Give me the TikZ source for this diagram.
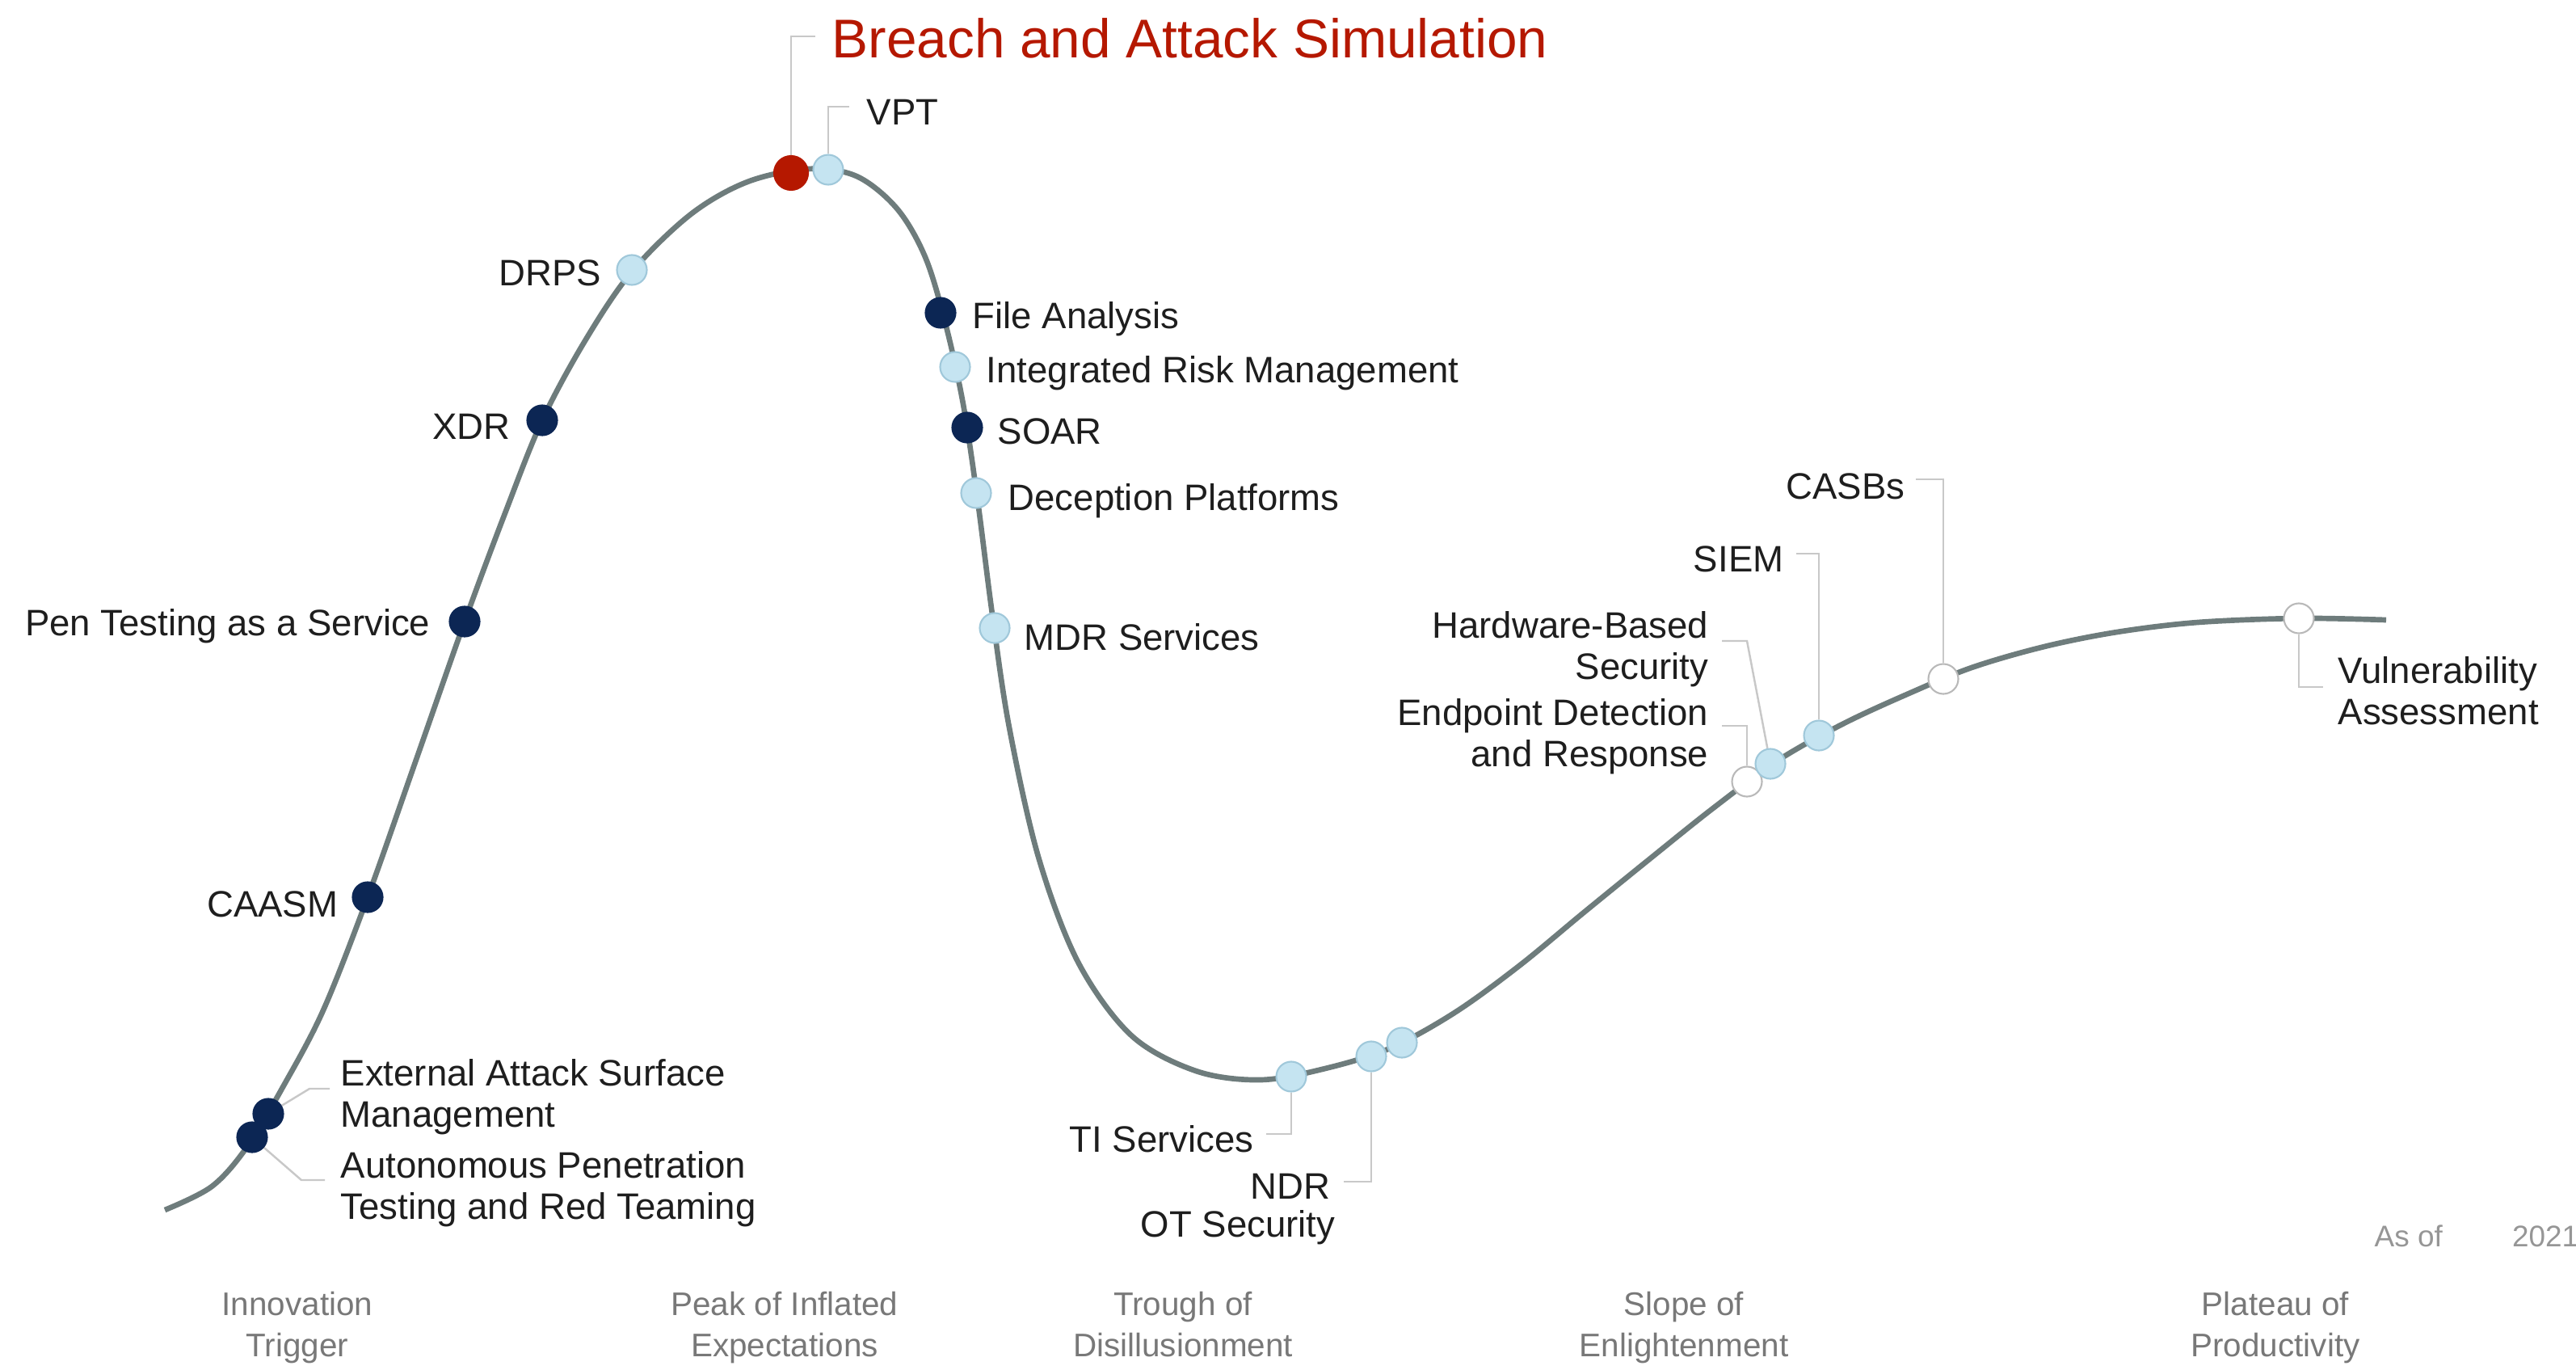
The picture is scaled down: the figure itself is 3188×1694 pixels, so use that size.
\documentclass[tikz,border=0pt]{standalone}
\usepackage{fontspec}
\setmainfont{Liberation Sans}
\definecolor{curvec}{RGB}{110,124,124}
\definecolor{navy}{RGB}{12,38,84}
\definecolor{lblue}{RGB}{197,228,241}
\definecolor{lblueb}{RGB}{160,200,218}
\definecolor{wborder}{RGB}{185,185,185}
\definecolor{basred}{RGB}{181,24,0}
\definecolor{leadc}{RGB}{200,200,200}
\definecolor{txt}{RGB}{30,30,30}
\definecolor{phasec}{RGB}{120,120,120}
\definecolor{asofc}{RGB}{150,150,150}
\pgfdeclarelayer{bg}
\pgfsetlayers{bg,main}
\begin{document}
\begin{tikzpicture}[x=0.01cm, y=-0.01cm,
  dot/.style={circle, minimum size=0.37cm, inner sep=0pt, line width=0.6pt},
  darkdot/.style={dot, fill=navy, draw=navy},
  lightdot/.style={dot, fill=lblue, draw=lblueb},
  whitedot/.style={dot, fill=white, draw=wborder},
  reddot/.style={dot, minimum size=0.42cm, fill=basred, draw=basred},
  lbl/.style={inner sep=0pt, text=txt, font=\fontsize{12.95}{14.4}\selectfont},
  titlelbl/.style={inner sep=0pt, text=basred, font=\fontsize{19.2}{22}\selectfont},
  phaselbl/.style={inner sep=0pt, text=phasec, align=center, anchor=north, font=\fontsize{11.5}{14.5}\selectfont},
  leader/.style={draw=leadc, line width=0.7pt},
  curveline/.style={draw=curvec, line width=1.9pt}
]
\useasboundingbox (0,0) rectangle (3188,1694);

% dots
\node[darkdot] (APT) at (312,1407) {};
\node[darkdot] (EASM) at (332,1378) {};
\node[darkdot] (CAASM) at (455,1110) {};
\node[darkdot] (PT) at (575,769) {};
\node[darkdot] (XDR) at (671,520) {};
\node[lightdot] (DRPS) at (782,334) {};
\node[lightdot] (VPT) at (1025,210) {};
\node[reddot] (BAS) at (979,214) {};
\node[darkdot] (FA) at (1164,387) {};
\node[lightdot] (IRM) at (1182,454) {};
\node[darkdot] (SOAR) at (1197,529) {};
\node[lightdot] (DP) at (1208,610) {};
\node[lightdot] (MDR) at (1231,777) {};
\node[lightdot] (TI) at (1598,1332) {};
\node[lightdot] (NDR) at (1697,1307) {};
\node[lightdot] (OT) at (1735,1290) {};
\node[whitedot] (EDR) at (2162,967) {};
\node[lightdot] (HBS) at (2191,945) {};
\node[lightdot] (SIEM) at (2251,910) {};
\node[whitedot] (CASB) at (2405,840) {};
\node[whitedot] (VA) at (2845,765) {};

% leader end points
\coordinate (lBAS) at (1009,45);
\coordinate (lVPT) at (1051,132);
\coordinate (kEASM) at (383,1347);
\coordinate (lEASM) at (408,1347);
\coordinate (kAPT) at (373,1460);
\coordinate (lAPT) at (402,1460);
\coordinate (lTI) at (1567,1403);
\coordinate (lNDR) at (1663,1462);
\coordinate (lEDR) at (2131,898);
\coordinate (kHBS) at (2162,793);
\coordinate (lHBS) at (2131,793);
\coordinate (lSIEM) at (2223,685);
\coordinate (lCASB) at (2371,593);
\coordinate (lVA) at (2875,850);

\begin{pgfonlayer}{bg}
\draw[curveline] plot[smooth, tension=0.55] coordinates {(204,1497) (262,1468) (305,1420) (350,1345) (400,1250) (455,1110) (515,940) (575,769) (625,635) (671,520) (725,420) (782,336) (855,265) (925,225) (1000,209) (1060,218) (1110,258) (1145,318) (1170,400) (1192,500) (1210,620) (1228,760) (1249,900) (1285,1060) (1334,1190) (1400,1281) (1480,1325) (1560,1336) (1640,1322) (1720,1297) (1800,1253) (1880,1195) (1960,1129) (2040,1064) (2120,1000) (2200,941) (2280,896) (2360,859) (2440,826) (2530,800) (2620,782) (2720,770) (2845,765) (2953,767)};
\draw[leader] (BAS) |- (lBAS);
\draw[leader] (VPT) |- (lVPT);
\draw[leader] (EASM) -- (kEASM) -- (lEASM);
\draw[leader] (APT) -- (kAPT) -- (lAPT);
\draw[leader] (TI) |- (lTI);
\draw[leader] (NDR) |- (lNDR);
\draw[leader] (EDR) |- (lEDR);
\draw[leader] (HBS) -- (kHBS) -- (lHBS);
\draw[leader] (SIEM) |- (lSIEM);
\draw[leader] (CASB) |- (lCASB);
\draw[leader] (VA) |- (lVA);
\end{pgfonlayer}

% labels
\node[titlelbl, anchor=base west] (tBAS) at (1029,72) {Breach and Attack Simulation};
\node[lbl, anchor=base west] (tVPT) at (1072,155) {VPT};
\node[lbl, anchor=base east] (tDRPS) at (745,353) {DRPS};
\node[lbl, anchor=base east] (tXDR) at (632,543) {XDR};
\node[lbl, anchor=base east] (tPT) at (533,786) {Pen Testing as a Service};
\node[lbl, anchor=base east] (tCAASM) at (419,1134) {CAASM};
\node[lbl, anchor=north west, align=left] (tEASM) at (421,1310) {External Attack Surface\\Management};
\node[lbl, anchor=north west, align=left] (tAPT) at (421,1424) {Autonomous Penetration\\Testing and Red Teaming};
\node[lbl, anchor=base west] (tFA) at (1203,406) {File Analysis};
\node[lbl, anchor=base west] (tIRM) at (1220,473) {Integrated Risk Management};
\node[lbl, anchor=base west] (tSOAR) at (1234,549) {SOAR};
\node[lbl, anchor=base west] (tDP) at (1247,631) {Deception Platforms};
\node[lbl, anchor=base west] (tMDR) at (1267,804) {MDR Services};
\node[lbl, anchor=base east] (tTI) at (1552,1425) {TI Services};
\node[lbl, anchor=base east] (tNDR) at (1647,1483) {NDR};
\node[lbl, anchor=base east] (tOT) at (1653,1530) {OT Security};
\node[lbl, anchor=north east, align=right] (tHBS) at (2115,756) {Hardware-Based\\Security};
\node[lbl, anchor=north east, align=right] (tEDR) at (2115,864) {Endpoint Detection\\and Response};
\node[lbl, anchor=base east] (tSIEM) at (2208,707) {SIEM};
\node[lbl, anchor=base east] (tCASB) at (2358,617) {CASBs};
\node[lbl, anchor=north west, align=left] (tVA) at (2893,812) {Vulnerability\\Assessment};

% phases
\node[phaselbl] (ph1) at (368,1597) {Innovation\\Trigger};
\node[phaselbl] (ph2) at (971,1597) {Peak of Inflated\\Expectations};
\node[phaselbl] (ph3) at (1464,1597) {Trough of\\Disillusionment};
\node[phaselbl] (ph4) at (2084,1597) {Slope of\\Enlightenment};
\node[phaselbl] (ph5) at (2816,1597) {Plateau of\\Productivity};
\node[inner sep=0pt, anchor=base west, text=asofc, font=\fontsize{10.5}{12}\selectfont] (asof) at (2938,1542) {As of \phantom{July} 2021};
\end{tikzpicture}
\end{document}
